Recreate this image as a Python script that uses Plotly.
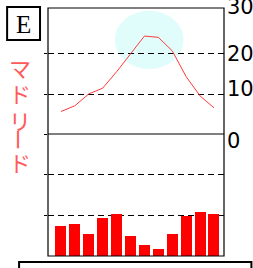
import plotly.graph_objects as go

months = ["1月", "2月", "3月", "4月", "5月", "6月", "7月", "8月", "9月", "10月", "11月", "12月"]
temperature = [5.8, 7.2, 10.1, 11.5, 15.5, 20.0, 24.2, 23.9, 20.6, 14.3, 9.6, 6.7]
precipitation = [37, 39.5, 27, 47, 52, 24.7, 13.6, 8.6, 27, 49.4, 54, 52]
temp_ticks = [30, 20, 10, 0]
temp_label_shift = [5, -1, 5, -6]
city = ["マ", "ド", "リ", "ー", "ド"]
city_y = [67.5, 92.5, 120, 139.5, 161.7]
panel_label = "E"

W, H = 253, 268
L, T = 48, 8
plot_w = 224.5 - 48
plot_h = 256 - 8
R = W - L - plot_w
B = H - T - plot_h


def px_to_paper_x(px):
    return (px - L) / plot_w


def px_to_paper_y(py):
    return (256 - py) / plot_h


split = px_to_paper_y(134)
temp_bottom = px_to_paper_y(135.3)
temp_range = [0, (135.3 - 8) / 4.1]

fig = go.Figure()

fig.add_trace(go.Bar(
    x=months, y=precipitation, yaxis="y2", marker=dict(color="#ff0000", line=dict(width=0)),
    width=0.79, showlegend=False))
fig.add_trace(go.Scatter(
    x=months, y=temperature, yaxis="y", mode="lines",
    line=dict(color="#ff3b3b", width=1), showlegend=False))

shapes = []
shapes.append(dict(type="circle", xref="paper", yref="paper",
                   x0=px_to_paper_x(115), x1=px_to_paper_x(184),
                   y0=px_to_paper_y(69), y1=px_to_paper_y(10.7),
                   fillcolor="rgba(184,248,245,0.44)", line=dict(width=0), layer="between"))
shapes.append(dict(type="rect", xref="paper", yref="paper", x0=0, x1=1, y0=0, y1=1,
                   line=dict(color="black", width=1.2)))
shapes.append(dict(type="line", xref="paper", yref="paper", x0=0, x1=1, y0=split, y1=split,
                   line=dict(color="black", width=1.2)))
shapes.append(dict(type="rect", xref="paper", yref="paper",
                   x0=px_to_paper_x(7), x1=px_to_paper_x(40),
                   y0=px_to_paper_y(40), y1=px_to_paper_y(7),
                   line=dict(color="black", width=2)))
shapes.append(dict(type="rect", xref="paper", yref="paper",
                   x0=px_to_paper_x(19), x1=px_to_paper_x(252),
                   y0=px_to_paper_y(290), y1=px_to_paper_y(262),
                   line=dict(color="black", width=2)))

annotations = []
annotations.append(dict(text=panel_label, xref="paper", yref="paper",
                        x=px_to_paper_x(23.5), y=px_to_paper_y(24), showarrow=False,
                        xanchor="center", yanchor="middle",
                        font=dict(family="Liberation Serif", size=25, color="black")))
for ch, cy in zip(city, city_y):
    annotations.append(dict(text=ch, xref="paper", yref="paper",
                            x=px_to_paper_x(20), y=px_to_paper_y(cy), showarrow=False,
                            xanchor="center", yanchor="middle",
                            textangle=90 if ch == "ー" else 0,
                            font=dict(family="Noto Sans CJK JP", size=22, color="#ff5a5a")))
for v, s in zip(temp_ticks, temp_label_shift):
    annotations.append(dict(text=str(v), xref="paper", yref="y", x=1, y=v,
                            xanchor="left", yanchor="middle", showarrow=False,
                            xshift=1, yshift=s,
                            font=dict(family="DejaVu Sans", size=21, color="black")))

grid_common = dict(showgrid=True, gridcolor="black", gridwidth=1, griddash="6px,4px",
                   zeroline=False, showline=False, ticks="outside", ticklen=3,
                   tickwidth=1, tickcolor="black", showticklabels=False)

fig.update_layout(
    width=W, height=H, margin=dict(l=L, r=R, t=T, b=B, pad=0, autoexpand=False),
    paper_bgcolor="white", plot_bgcolor="white",
    bargap=0, hovermode=False,
    xaxis=dict(type="category", range=[-0.93, 11.72], showgrid=False, showticklabels=False,
               ticks="", zeroline=False, showline=False, fixedrange=True),
    yaxis=dict(domain=[temp_bottom, 1], range=temp_range, tickvals=[10, 20], **grid_common),
    yaxis2=dict(domain=[0, split], range=[0, 150.6], tickvals=[50, 100, 150], **grid_common),
    yaxis3=dict(overlaying="y", side="right", range=temp_range, tickvals=[10, 20],
                ticks="inside", ticklen=3, tickwidth=1, tickcolor="black",
                showgrid=False, zeroline=False, showline=False, showticklabels=False),
    shapes=shapes, annotations=annotations,
)
fig.add_trace(go.Scatter(x=[months[0]], y=[None], yaxis="y3", showlegend=False, hoverinfo="skip"))

fig.write_html("out.html", config={"displayModeBar": False},
               post_script="document.body.style.margin='0';document.body.style.overflow='hidden';")
